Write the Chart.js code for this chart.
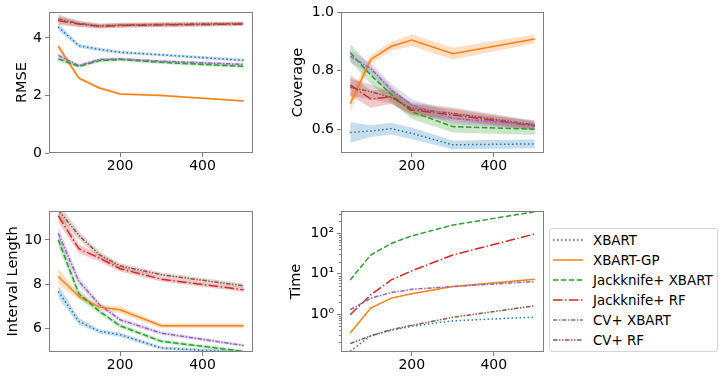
<!DOCTYPE html>
<html><head><meta charset="utf-8">
<script src="https://cdn.jsdelivr.net/npm/chart.js@4"></script>
<style>
body{margin:0;background:#fff;width:726px;height:379px;overflow:hidden;position:relative;font-family:"DejaVu Sans";}
canvas{position:absolute;}
#legend{position:absolute;left:549px;top:228px;width:169px;height:124px;border:1px solid #d5d5d5;border-radius:3px;box-sizing:border-box;background:#fff;}
.row{position:absolute;left:3px;height:20px;display:flex;align-items:center;font-size:13.4px;color:#000;white-space:nowrap;}
.row svg{margin-right:10px;}
</style></head>
<body>
<canvas id="c1" width="262" height="190" style="left:0;top:0;width:262px;height:190px"></canvas>
<canvas id="c2" width="290" height="190" style="left:262px;top:0;width:290px;height:190px"></canvas>
<canvas id="c3" width="262" height="189" style="left:0;top:190px;width:262px;height:189px"></canvas>
<canvas id="c4" width="285" height="189" style="left:262px;top:190px;width:285px;height:189px"></canvas>
<div id="legend"></div>
<script>
// ---- data ----
const seriesNames = ['XBART','XBART-GP','Jackknife+ XBART','Jackknife+ RF','CV+ XBART','CV+ RF'];
const xValues = [50,100,150,200,300,500];
const xTicks = [200,400];

const rmse_XBART    = [4.38,3.73,3.60,3.50,3.41,3.22];
const rmse_XBART_GP = [3.71,2.60,2.26,2.05,2.00,1.81];
const rmse_JK_XBART = [3.27,3.01,3.21,3.25,3.15,3.01];
const rmse_JK_RF    = [4.60,4.48,4.40,4.43,4.45,4.48];
const rmse_CV_XBART = [3.39,3.04,3.25,3.27,3.19,3.08];
const rmse_CV_RF    = [4.66,4.50,4.42,4.45,4.47,4.50];
const rmseSpread_XBART    = [0.12,0.07,0.06,0.06,0.05,0.06];
const rmseSpread_XBART_GP = [0.12,0.06,0.05,0.04,0.04,0.03];
const rmseSpread_JK_XBART = [0.08,0.05,0.06,0.06,0.06,0.06];
const rmseSpread_JK_RF    = [0.15,0.10,0.08,0.08,0.08,0.07];
const rmseSpread_CV_XBART = [0.08,0.05,0.05,0.05,0.05,0.05];
const rmseSpread_CV_RF    = [0.15,0.10,0.08,0.08,0.08,0.07];
const rmseTicks = [0,2,4];

const cov_XBART    = [0.589,0.594,0.602,0.586,0.547,0.550];
const cov_XBART_GP = [0.688,0.838,0.883,0.904,0.858,0.908];
const cov_JK_XBART = [0.861,0.785,0.719,0.660,0.609,0.600];
const cov_JK_RF    = [0.751,0.703,0.711,0.666,0.649,0.611];
const cov_CV_XBART = [0.849,0.807,0.734,0.683,0.637,0.615];
const cov_CV_RF    = [0.743,0.728,0.708,0.671,0.654,0.615];
const covSpread_XBART    = [0.035,0.02,0.02,0.02,0.015,0.015];
const covSpread_XBART_GP = [0.03,0.015,0.015,0.02,0.02,0.015];
const covSpread_JK_XBART = [0.03,0.03,0.025,0.025,0.02,0.02];
const covSpread_JK_RF    = [0.035,0.03,0.025,0.02,0.02,0.015];
const covSpread_CV_XBART = [0.02,0.02,0.02,0.02,0.02,0.015];
const covSpread_CV_RF    = [0.03,0.025,0.02,0.02,0.02,0.015];
const covTicks = [0.6,0.8,1.0];

const len_XBART    = [7.68,6.33,5.88,5.73,5.13,4.93];
const len_XBART_GP = [8.35,7.45,6.97,6.85,6.13,6.13];
const len_JK_XBART = [10.0,7.57,6.78,6.13,5.43,4.98];
const len_JK_RF    = [11.08,9.6,9.18,8.70,8.23,7.75];
const len_CV_XBART = [10.3,8.13,7.08,6.40,5.80,5.24];
const len_CV_RF    = [11.35,10.2,9.33,8.83,8.43,7.93];
const lenSpread_XBART    = [0.3,0.15,0.1,0.1,0.08,0.08];
const lenSpread_XBART_GP = [0.35,0.15,0.12,0.15,0.1,0.1];
const lenSpread_JK_XBART = [0.3,0.2,0.12,0.1,0.08,0.07];
const lenSpread_JK_RF    = [0.3,0.2,0.15,0.12,0.1,0.1];
const lenSpread_CV_XBART = [0.3,0.2,0.12,0.1,0.08,0.07];
const lenSpread_CV_RF    = [0.3,0.2,0.15,0.12,0.1,0.1];
const lenTicks = [6,8,10];

const time_XBART    = [0.12,0.29,0.40,0.50,0.68,0.84];
const time_XBART_GP = [0.34,1.41,2.48,3.2,4.8,7.3];
const time_JK_XBART = [7.0,29,56,86,160,340];
const time_JK_RF    = [0.96,3.0,7.0,11.7,29,96];
const time_CV_XBART = [1.28,2.48,3.4,4.1,4.8,6.4];
const time_CV_RF    = [0.185,0.29,0.41,0.525,0.83,1.6];
const timeTicks = [1,10,100];
const timeTickLabels = ['10\u2070','10\u00b9','10\u00b2'];

// ---- styles ----
const colors = ['#1f77b4','#ff7f0e','#2ca02c','#d62728','#9467bd','#8c564b'];
const dashes = [[1.5,2.5],[],[5.5,2.4],[9.6,2.4,1.5,2.4],[4.5,1.5,1.5,1.5],[4.5,1.5,1.5,1.5,1.5,1.5]];
const FONT = 'DejaVu Sans';
const SPINE = '#808080';

function rgba(hex,a){const n=parseInt(hex.slice(1),16);return `rgba(${n>>16},${(n>>8)&255},${n&255},${a})`;}

function buildDatasets(means, spreads){
  const ds=[];
  means.forEach((m,i)=>{
    if(spreads){
      const s=spreads[i];
      ds.push({data:xValues.map((x,j)=>({x,y:m[j]-s[j]})),borderWidth:0,pointRadius:0,fill:false,order:100-i,clip:0});
      ds.push({data:xValues.map((x,j)=>({x,y:m[j]+s[j]})),borderWidth:0,pointRadius:0,fill:'-1',backgroundColor:rgba(colors[i],0.25),order:100-i,clip:0});
    }
    ds.push({data:xValues.map((x,j)=>({x,y:m[j]})),borderColor:colors[i],borderWidth:1.5,borderDash:dashes[i],pointRadius:0,fill:false,tension:0,order:50-i,clip:0});
  });
  return ds;
}

const framePlugin={id:'frame',afterDraw(chart,args,opts){
  const {ctx,chartArea:a}=chart;
  ctx.save();
  ctx.strokeStyle=SPINE;ctx.lineWidth=1;
  ctx.strokeRect(Math.round(a.left)+0.5,Math.round(a.top)+0.5,Math.round(a.right-a.left)-1,Math.round(a.bottom-a.top)-1);
  if(opts&&opts.minorLog){
    const sc=chart.scales.y;
    ctx.beginPath();
    for(let e=-2;e<=3;e++){for(let k=2;k<=9;k++){const v=k*Math.pow(10,e);if(v<sc.min||v>sc.max)continue;const y=Math.round(sc.getPixelForValue(v))+0.5;ctx.moveTo(a.left,y);ctx.lineTo(a.left-2.2,y);}}
    ctx.stroke();
  }
  ctx.restore();
}};

function makeChart(id,cfg){
  const yScale=Object.assign({
    position:'left',
    border:{display:false},
    grid:{display:true,drawOnChartArea:false,drawTicks:true,tickLength:4,tickColor:SPINE,tickWidth:1},
    ticks:{font:{family:FONT,size:14},color:'#000',padding:3,autoSkip:false,maxRotation:0},
    title:{display:true,text:cfg.title,font:{family:FONT,size:14.5},color:'#000',padding:{top:cfg.titlePad,bottom:0}},
    afterFit(s){s.width=cfg.yWidth;},
    afterBuildTicks(s){s.ticks=cfg.yTicks.map(v=>({value:v}));}
  },cfg.y);
  return new Chart(document.getElementById(id),{
    type:'line',
    data:{datasets:buildDatasets(cfg.means,cfg.spreads)},
    options:{
      responsive:false,animation:false,devicePixelRatio:1,
      layout:{padding:{top:cfg.padTop,right:cfg.padRight,left:0,bottom:0}},
      plugins:{legend:{display:false},tooltip:{enabled:false},frame:{minorLog:!!cfg.minorLog}},
      scales:{
        x:{type:'linear',min:27.5,max:522.5,
          border:{display:false},
          grid:{display:true,drawOnChartArea:false,drawTicks:true,tickLength:4,tickColor:SPINE,tickWidth:1},
          ticks:{font:{family:FONT,size:14},color:'#000',padding:1,autoSkip:false,maxRotation:0,callback:v=>String(v)},
          afterFit(s){s.height=cfg.xHeight;},
          afterBuildTicks(s){s.ticks=xTicks.map(v=>({value:v}));}
        },
        y:yScale
      }
    },
    plugins:[framePlugin]
  });
}

makeChart('c1',{title:'RMSE',titlePad:14,yWidth:49,padTop:12,padRight:9,xHeight:37,yTicks:rmseTicks,
  y:{type:'linear',min:0,max:4.9},
  means:[rmse_XBART,rmse_XBART_GP,rmse_JK_XBART,rmse_JK_RF,rmse_CV_XBART,rmse_CV_RF],
  spreads:[rmseSpread_XBART,rmseSpread_XBART_GP,rmseSpread_JK_XBART,rmseSpread_JK_RF,rmseSpread_CV_XBART,rmseSpread_CV_RF]});

makeChart('c2',{title:'Coverage',titlePad:28,yWidth:79,padTop:12,padRight:8,xHeight:37,yTicks:covTicks,
  y:{type:'linear',min:0.519,max:1.0},
  means:[cov_XBART,cov_XBART_GP,cov_JK_XBART,cov_JK_RF,cov_CV_XBART,cov_CV_RF],
  spreads:[covSpread_XBART,covSpread_XBART_GP,covSpread_JK_XBART,covSpread_JK_RF,covSpread_CV_XBART,covSpread_CV_RF]});

makeChart('c3',{title:'Interval Length',titlePad:4.5,yWidth:49,padTop:21,padRight:9,xHeight:27,yTicks:lenTicks,
  y:{type:'linear',min:4.95,max:11.3},
  means:[len_XBART,len_XBART_GP,len_JK_XBART,len_JK_RF,len_CV_XBART,len_CV_RF],
  spreads:[lenSpread_XBART,lenSpread_XBART_GP,lenSpread_JK_XBART,lenSpread_JK_RF,lenSpread_CV_XBART,lenSpread_CV_RF]});

makeChart('c4',{title:'Time',titlePad:26,yWidth:79,padTop:21,padRight:3,xHeight:27,yTicks:timeTicks,minorLog:true,
  y:{type:'logarithmic',min:0.115,max:356,ticks:{font:{family:FONT,size:14},color:'#000',padding:3,autoSkip:false,maxRotation:0,
     callback:v=>{const i=timeTicks.indexOf(v);return i>=0?timeTickLabels[i]:'';}}},
  means:[time_XBART,time_XBART_GP,time_JK_XBART,time_JK_RF,time_CV_XBART,time_CV_RF],
  spreads:null});

// ---- legend ----
const lg=document.getElementById('legend');
seriesNames.forEach((name,i)=>{
  const row=document.createElement('div');
  row.className='row';
  row.style.top=(1+20*i)+'px';
  const svgNS='http://www.w3.org/2000/svg';
  const svg=document.createElementNS(svgNS,'svg');
  svg.setAttribute('width','30');svg.setAttribute('height','6');
  const ln=document.createElementNS(svgNS,'line');
  ln.setAttribute('x1','0');ln.setAttribute('y1','3');ln.setAttribute('x2','30');ln.setAttribute('y2','3');
  ln.setAttribute('stroke',colors[i]);ln.setAttribute('stroke-width','1.5');
  if(dashes[i].length)ln.setAttribute('stroke-dasharray',dashes[i].join(' '));
  svg.appendChild(ln);
  row.appendChild(svg);
  const sp=document.createElement('span');sp.textContent=name;row.appendChild(sp);
  lg.appendChild(row);
});
</script>
</body></html>
